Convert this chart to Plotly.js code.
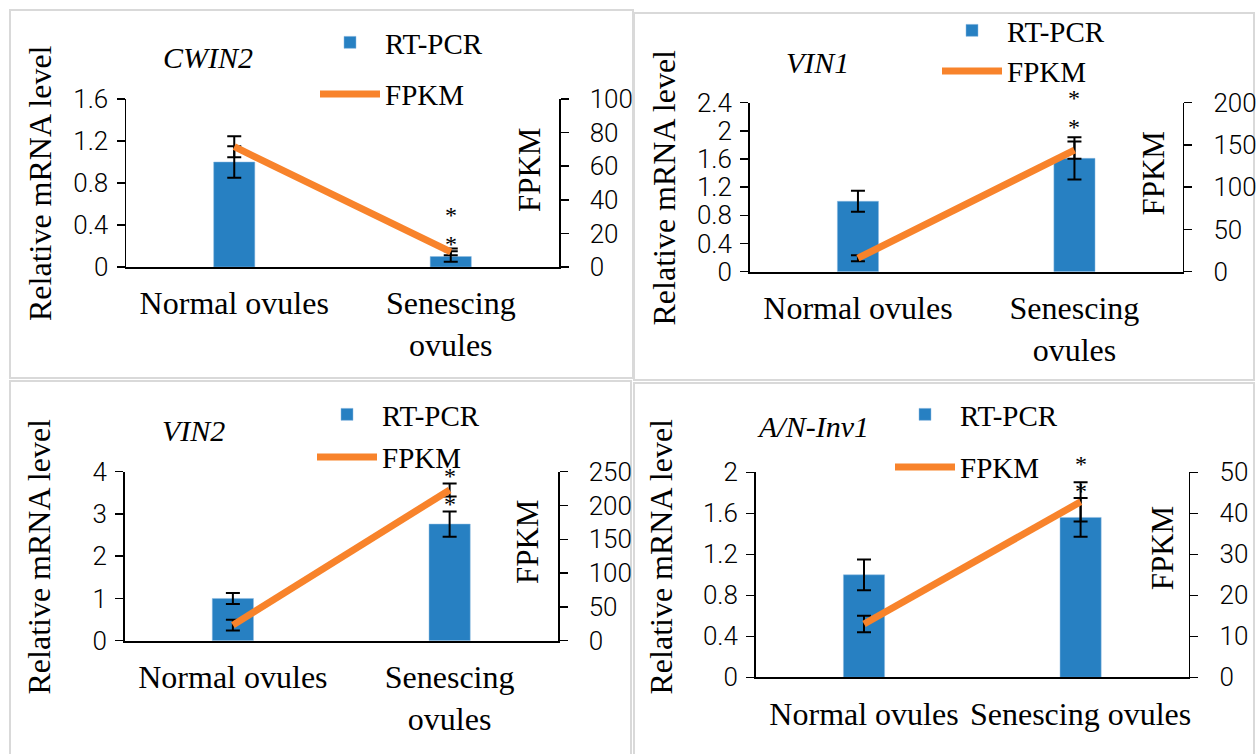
<!DOCTYPE html>
<html><head><meta charset="utf-8">
<script src="https://cdn.plot.ly/plotly-3.0.1.min.js"></script>
<style>html,body{margin:0;padding:0;background:#fff}#chart{width:1256px;height:754px}</style>
</head><body><div id="chart"></div>
<script>
// ---------------- data ----------------
const categories = ['Normal ovules', 'Senescing ovules'];
const tickLabelsWrapped = ['Normal ovules', 'Senescing<br>ovules'];
const tickLabelsFlat = ['Normal ovules', 'Senescing ovules'];
const genes = ['CWIN2', 'VIN1', 'VIN2', 'A/N-Inv1'];

const rtpcrCWIN2 = [1.00, 0.10];
const rtpcrErrCWIN2 = [0.15, 0.05];
const fpkmCWIN2 = [71.6, 9.0];
const fpkmErrCWIN2 = [6.3, 2.0];
const starsCWIN2 = [0.50, 0.22];

const rtpcrVIN1 = [1.00, 1.61];
const rtpcrErrVIN1 = [0.15, 0.30];
const fpkmVIN1 = [16, 144];
const fpkmErrVIN1 = [3.5, 10.2];
const starsVIN1 = [2.46, 2.05];

const rtpcrVIN2 = [1.00, 2.76];
const rtpcrErrVIN2 = [0.13, 0.30];
const fpkmVIN2 = [23, 223];
const fpkmErrVIN2 = [8.0, 9.6];
const starsVIN2 = [3.90, 3.23];

const rtpcrANInv1 = [1.00, 1.56];
const rtpcrErrANInv1 = [0.15, 0.19];
const fpkmANInv1 = [13.0, 42.8];
const fpkmErrANInv1 = [2.0, 4.8];
const starsANInv1 = [2.08, 1.82];

const leftTitle = 'Relative mRNA level';
const rightTitle = 'FPKM';
const leftMax = [1.6, 2.4, 4, 2];
const leftStep = [0.4, 0.4, 1, 0.4];
const rightMax = [100, 200, 250, 50];
const rightStep = [20, 50, 50, 10];

// ---------------- styling / layout ----------------
const W = 1256, H = 754;
const BLUE = '#2780C2', ORANGE = '#F8832B';
const SERIF = 'Liberation Serif';
const TICKFONT = {family: 'Roboto', size: 26, color: '#000', weight: 300};

const panels = [
  {rt: rtpcrCWIN2, rtErr: rtpcrErrCWIN2, fp: fpkmCWIN2, fpErr: fpkmErrCWIN2, stars: starsCWIN2,
   plot: [126, 559, 99, 267], ticks: tickLabelsWrapped,
   gene: [208, 58], lt: [40, 183], rt2: [530, 170], leg: [315, 17], gap: 11, frame: [10, 633, 10, 378]},
  {rt: rtpcrVIN1, rtErr: rtpcrErrVIN1, fp: fpkmVIN1, fpErr: fpkmErrVIN1, stars: starsVIN1,
   plot: [749.7, 1182.7, 102.7, 271.7], ticks: tickLabelsWrapped,
   gene: [817.5, 62], lt: [663, 187.5], rt2: [1152.5, 174], leg: [937, 5], gap: 0, frame: [634, 1254, 13, 380]},
  {rt: rtpcrVIN2, rtErr: rtpcrErrVIN2, fp: fpkmVIN2, fpErr: fpkmErrVIN2, stars: starsVIN2,
   plot: [124.5, 558, 471.7, 640.7], ticks: tickLabelsWrapped,
   gene: [193, 430.5], lt: [38, 556.5], rt2: [527.5, 542.5], leg: [312, 389], gap: 2, frame: [10, 631, 381, 756]},
  {rt: rtpcrANInv1, rtErr: rtpcrErrANInv1, fp: fpkmANInv1, fpErr: fpkmErrANInv1, stars: starsANInv1,
   plot: [755.7, 1188.9, 472.3, 677.3], ticks: tickLabelsFlat,
   gene: [812.6, 426], lt: [660, 556.5], rt2: [1162, 548.3], leg: [890, 389], gap: 12, frame: [634, 1254, 383, 756]}
];

const px = v => v / W;
const py = v => 1 - v / H;

const traces = [];
const layout = {
  width: W, height: H,
  margin: {l: 0, r: 0, t: 0, b: 0},
  paper_bgcolor: '#fff', plot_bgcolor: 'rgba(0,0,0,0)',
  showlegend: true,
  font: {family: SERIF, color: '#000'},
  annotations: [], shapes: []
};

panels.forEach((p, i) => {
  const xid = i === 0 ? 'x' : 'x' + (i + 1);
  const ylid = i === 0 ? 'y' : 'y' + (2 * i + 1);
  const yrid = 'y' + (2 * i + 2);
  const legId = i === 0 ? 'legend' : 'legend' + (i + 1);
  const xkey = i === 0 ? 'xaxis' : 'xaxis' + (i + 1);
  const ylkey = i === 0 ? 'yaxis' : 'yaxis' + (2 * i + 1);
  const yrkey = 'yaxis' + (2 * i + 2);

  traces.push({
    type: 'bar', x: categories, y: p.rt, name: 'RT-PCR',
    xaxis: xid, yaxis: ylid, legend: legId, legendgroup: 'rt' + i,
    marker: {color: BLUE, line: {color: '#8fbbe0', width: 0.5}}, width: 0.19,
    error_y: {type: 'data', array: p.rtErr, visible: true, color: '#000', thickness: 2, width: 7},
    hoverinfo: 'skip'
  });
  traces.push({
    type: 'scatter', mode: 'lines', x: categories, y: p.fp, name: 'FPKM',
    xaxis: xid, yaxis: yrid, legend: legId, legendgroup: 'fp' + i,
    line: {color: ORANGE, width: 7},
    error_y: {type: 'data', array: p.fpErr, visible: true, color: '#000', thickness: 2, width: 7},
    hoverinfo: 'skip'
  });
  // significance asterisks (text), placed on the RT-PCR scale via the axis domain
  p.stars.forEach(s => {
    layout.annotations.push({
      xref: xid, yref: ylid + ' domain', x: categories[1], y: s / leftMax[i],
      xanchor: 'center', yanchor: 'middle', showarrow: false, text: '*',
      font: {family: SERIF, size: 24, color: '#000'}
    });
  });

  const [x0, x1, y0, y1] = p.plot;
  layout[xkey] = {
    domain: [px(x0), px(x1)], anchor: ylid, type: 'category', range: [-0.5, 1.5],
    showline: true, linecolor: '#000', linewidth: 2, ticks: '', showgrid: false, zeroline: false,
    tickmode: 'array', tickvals: categories, ticktext: p.ticks,
    tickfont: {family: SERIF, size: 32, color: '#000'}, ticklabelstandoff: 7, fixedrange: true
  };
  layout[ylkey] = {
    domain: [py(y1), py(y0)], anchor: xid, range: [0, leftMax[i]], dtick: leftStep[i], tick0: 0,
    showline: true, linecolor: '#000', linewidth: 1.5, ticks: 'outside', ticklen: 8, tickwidth: 1.5,
    tickcolor: '#000', showgrid: false, zeroline: false, tickfont: TICKFONT, ticklabelstandoff: 3,
    fixedrange: true
  };
  layout[yrkey] = {
    overlaying: ylid, side: 'right', anchor: xid, range: [0, rightMax[i]], dtick: rightStep[i], tick0: 0,
    showline: true, linecolor: '#000', linewidth: 1.5, ticks: 'outside', ticklen: 8, tickwidth: 1.5,
    tickcolor: '#000', showgrid: false, zeroline: false, tickfont: TICKFONT, ticklabelstandoff: 16,
    fixedrange: true
  };
  layout[legId] = {
    x: px(p.leg[0]), y: py(p.leg[1]), xanchor: 'left', yanchor: 'top',
    bgcolor: 'rgba(0,0,0,0)', borderwidth: 0,
    font: {family: SERIF, size: 29, color: '#000'},
    traceorder: 'grouped', tracegroupgap: p.gap, itemwidth: 60
  };

  layout.annotations.push({
    xref: 'paper', yref: 'paper', x: px(p.gene[0]), y: py(p.gene[1]),
    xanchor: 'center', yanchor: 'middle', showarrow: false,
    text: '<i>' + genes[i] + '</i>', font: {family: SERIF, size: 30, color: '#000'}
  });
  layout.annotations.push({
    xref: 'paper', yref: 'paper', x: px(p.lt[0]), y: py(p.lt[1]),
    xanchor: 'center', yanchor: 'middle', showarrow: false, textangle: -90,
    text: leftTitle, font: {family: SERIF, size: 32, color: '#000'}
  });
  layout.annotations.push({
    xref: 'paper', yref: 'paper', x: px(p.rt2[0]), y: py(p.rt2[1]),
    xanchor: 'center', yanchor: 'middle', showarrow: false, textangle: -90,
    text: rightTitle, font: {family: SERIF, size: 31, color: '#000'}
  });
  const [f0, f1, g0, g1] = p.frame;
  layout.shapes.push({
    type: 'rect', xref: 'paper', yref: 'paper', x0: px(f0), x1: px(f1), y0: py(g1), y1: py(g0),
    line: {color: '#d9d9d9', width: 2}, fillcolor: 'rgba(0,0,0,0)', layer: 'below'
  });
});

Plotly.newPlot('chart', traces, layout, {displayModeBar: false, staticPlot: true});
</script></body></html>
